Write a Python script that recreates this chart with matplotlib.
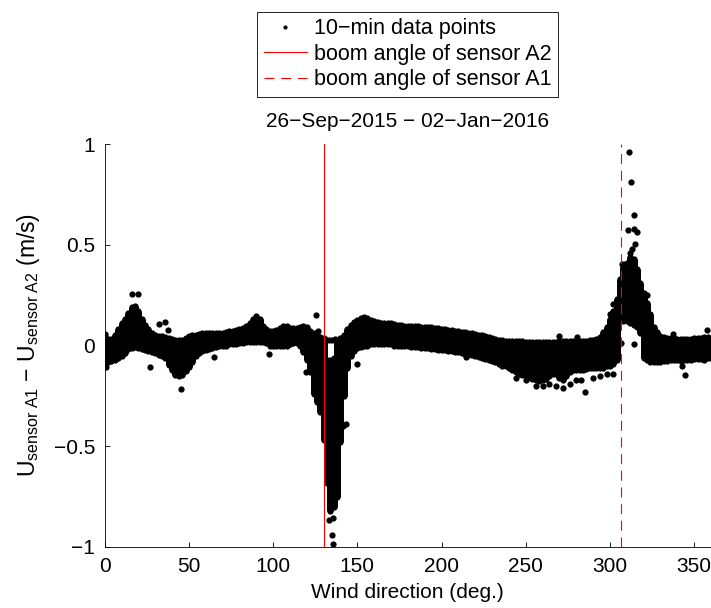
import matplotlib
matplotlib.use("Agg")
import matplotlib.pyplot as plt
from matplotlib.lines import Line2D

plt.rcParams['font.family'] = ['Liberation Sans', 'DejaVu Sans']
plt.rcParams['mathtext.fontset'] = 'custom'
plt.rcParams['mathtext.rm'] = 'Liberation Sans'
plt.rcParams['mathtext.it'] = 'Liberation Sans:italic'

# ---- data ----
# dense band of 10-min points: direction bins with lower / upper edge of the point cloud
band_dir = [0, 2, 4, 6, 8, 10, 12, 14, 16, 18,
            20, 22, 24, 26, 28, 30, 32, 34, 36, 38,
            40, 42, 44, 46, 48, 50, 52, 54, 56, 58,
            60, 62, 64, 66, 68, 70, 72, 74, 76, 78,
            80, 82, 84, 86, 88, 90, 92, 94, 96, 98,
            100, 102, 104, 106, 108, 110, 112, 114, 116, 118,
            120, 122, 124, 126, 128, 130, 132, 134, 136, 138,
            140, 142, 144, 146, 148, 150, 152, 154, 156, 158,
            160, 162, 164, 166, 168, 170, 172, 174, 176, 178,
            180, 182, 184, 186, 188, 190, 192, 194, 196, 198,
            200, 202, 204, 206, 208, 210, 212, 214, 216, 218,
            220, 222, 224, 226, 228, 230, 232, 234, 236, 238,
            240, 242, 244, 246, 248, 250, 252, 254, 256, 258,
            260, 262, 264, 266, 268, 270, 272, 274, 276, 278,
            280, 282, 284, 286, 288, 290, 292, 294, 296, 298,
            300, 302, 304, 306, 308, 310, 312, 314, 316, 318,
            320, 322, 324, 326, 328, 330, 332, 334, 336, 338,
            340, 342, 344, 346, 348, 350, 352, 354, 356, 358,
            360]
band_lo = [-0.09, -0.08, -0.075, -0.07, -0.06, -0.05, -0.035, -0.015, -0.01, -0.005,
           -0.01, -0.015, -0.02, -0.025, -0.03, -0.035, -0.045, -0.05, -0.06, -0.095,
           -0.12, -0.145, -0.15, -0.145, -0.125, -0.105, -0.08, -0.05, -0.035, -0.025,
           -0.02, -0.015, -0.01, -0.005, 0.0, 0.0, 0.0, 0.005, 0.005, 0.005,
           0.01, 0.01, 0.015, 0.015, 0.015, 0.015, 0.015, 0.015, 0.01, 0.0,
           0.0, 0.0, 0.0, 0.0, 0.0, 0.005, 0.01, 0.01, 0.0, -0.03,
           -0.07, -0.13, -0.24, -0.28, -0.33, -0.47, -0.68, -0.82, -0.80, -0.75,
           -0.48, -0.25, -0.11, -0.05, -0.025, -0.01, -0.005, 0.0, 0.0, 0.005,
           0.005, 0.005, 0.005, 0.005, 0.005, 0.005, 0.0, 0.0, 0.0, 0.0,
           0.0, -0.005, -0.005, -0.005, -0.01, -0.01, -0.01, -0.015, -0.015, -0.02,
           -0.02, -0.02, -0.025, -0.025, -0.03, -0.03, -0.035, -0.04, -0.045, -0.045,
           -0.05, -0.055, -0.06, -0.065, -0.07, -0.075, -0.08, -0.09, -0.10, -0.10,
           -0.11, -0.12, -0.13, -0.14, -0.145, -0.15, -0.155, -0.165, -0.17, -0.175,
           -0.17, -0.165, -0.15, -0.14, -0.14, -0.16, -0.17, -0.15, -0.13, -0.12,
           -0.12, -0.12, -0.12, -0.115, -0.11, -0.11, -0.11, -0.11, -0.11, -0.10,
           -0.10, -0.09, -0.07, 0.13, 0.12, 0.12, 0.11, 0.10, 0.09, 0.06,
           -0.06, -0.07, -0.08, -0.08, -0.08, -0.08, -0.075, -0.075, -0.07, -0.07,
           -0.07, -0.075, -0.07, -0.07, -0.07, -0.065, -0.065, -0.065, -0.07, -0.06,
           -0.06]
band_hi = [0.045, 0.03, 0.03, 0.05, 0.08, 0.11, 0.13, 0.16, 0.19, 0.195,
           0.17, 0.13, 0.10, 0.08, 0.06, 0.05, 0.045, 0.045, 0.04, 0.035,
           0.03, 0.025, 0.025, 0.025, 0.035, 0.045, 0.05, 0.05, 0.055, 0.06,
           0.06, 0.06, 0.06, 0.06, 0.06, 0.06, 0.065, 0.07, 0.07, 0.075,
           0.08, 0.085, 0.095, 0.11, 0.13, 0.145, 0.13, 0.095, 0.08, 0.07,
           0.07, 0.075, 0.085, 0.095, 0.095, 0.085, 0.085, 0.085, 0.09, 0.095,
           0.09, 0.07, 0.06, 0.05, 0.04, 0.035, -0.07, -0.07, -0.06, 0.02,
           0.035, 0.05, 0.08, 0.10, 0.115, 0.125, 0.135, 0.14, 0.135, 0.125,
           0.12, 0.115, 0.11, 0.11, 0.11, 0.11, 0.105, 0.10, 0.10, 0.095,
           0.095, 0.095, 0.095, 0.095, 0.09, 0.09, 0.09, 0.09, 0.085, 0.085,
           0.08, 0.08, 0.075, 0.075, 0.07, 0.07, 0.065, 0.065, 0.06, 0.06,
           0.055, 0.05, 0.05, 0.045, 0.04, 0.035, 0.03, 0.025, 0.025, 0.02,
           0.02, 0.02, 0.02, 0.02, 0.02, 0.015, 0.015, 0.015, 0.015, 0.015,
           0.015, 0.015, 0.015, 0.015, 0.015, 0.02, 0.02, 0.02, 0.02, 0.02,
           0.02, 0.02, 0.02, 0.02, 0.025, 0.025, 0.03, 0.04, 0.06, 0.09,
           0.13, 0.17, 0.23, 0.33, 0.39, 0.41, 0.44, 0.43, 0.38, 0.31,
           0.26, 0.21, 0.15, 0.09, 0.06, 0.045, 0.04, 0.035, 0.035, 0.035,
           0.03, 0.03, 0.03, 0.03, 0.03, 0.035, 0.035, 0.035, 0.04, 0.04,
           0.03]

# individual scattered 10-min points outside the dense band
pts_dir = [0, 1, 16, 19.6, 27, 32, 36, 37.6, 45.6, 65, 97.7, 119.6, 125.2, 126.8,
           131, 133, 135, 137, 133, 135.5, 135.2, 135.8, 141.5, 143, 150, 214.8,
           244.5, 250, 256, 260, 264, 268, 272, 276, 280, 283, 285.2, 290, 294, 298, 301.6,
           270, 280.5, 296, 300, 302, 306.6, 314,
           307, 309, 310.9, 311.5, 312, 312.5, 313, 314, 314.4, 315, 316,
           321.9, 323.8, 327.7, 337.7, 357.7, 342.7, 344.5]
pts_du = [0.055, -0.105, 0.255, 0.255, -0.108, 0.108, 0.116, 0.078, -0.215, -0.055, -0.041, -0.133, 0.149, 0.07,
          0.03, 0.025, 0.025, 0.03, -0.865, -0.855, -0.94, -0.985, -0.40, -0.39, -0.091, -0.055,
          -0.16, -0.17, -0.20, -0.20, -0.19, -0.20, -0.21, -0.19, -0.17, -0.17, -0.232, -0.16, -0.15, -0.14, -0.14,
          0.045, 0.04, 0.066, 0.158, 0.207, 0.011, 0.005,
          0.406, 0.406, 0.575, 0.96, 0.46, 0.81, 0.48, 0.58, 0.65, 0.506, 0.565,
          0.25, 0.158, 0.066, 0.058, 0.075, -0.10, -0.144]

boom_A2 = 130.0
boom_A1 = 306.5

title_txt = "26\u2212Sep\u22122015 \u2212 02\u2212Jan\u22122016"
x_ticks = [0, 50, 100, 150, 200, 250, 300, 350]
y_ticks = [-1, -0.5, 0, 0.5, 1]
y_ticklabels = ["\u22121", "\u22120.5", "0", "0.5", "1"]

# ---- figure ----
W, H = 711, 608
fig = plt.figure(figsize=(W / 100, H / 100), dpi=100)
ax = fig.add_axes([104.7 / W, (H - 547) / H, 606.3 / W, 403 / H])

ms = 4.5
ax.vlines(band_dir, band_lo, band_hi, colors='k', linewidth=ms + 0.5, zorder=2)
ax.plot(band_dir, band_lo, 'o', color='k', ms=ms, mew=0, zorder=3)
ax.plot(band_dir, band_hi, 'o', color='k', ms=ms, mew=0, zorder=3)
ax.plot(pts_dir, pts_du, 'o', color='k', ms=ms, mew=0, zorder=3)

ax.axvline(boom_A2, color='r', lw=0.8, zorder=5)
ax.axvline(boom_A1, color='r', lw=0.8, ls=(0, (9, 6)), zorder=5)

ax.set_xlim(0, 360)
ax.set_ylim(-1, 1)
ax.set_xticks(x_ticks)
ax.set_yticks(y_ticks)
ax.set_yticklabels(y_ticklabels)
for s in ['top', 'right']:
    ax.spines[s].set_visible(False)
for s in ['left', 'bottom']:
    ax.spines[s].set_linewidth(0.6)
ax.tick_params(direction='in', length=3.6, width=0.6, labelsize=15, pad=7)

ax.set_xlabel('Wind direction (deg.)', fontsize=15)
ax.xaxis.set_label_coords(0.5, -(592 - 547) / 403)
ax.xaxis.label.set_va('center')
ax.set_ylabel(r'U$_{\rm sensor\ A1}$ $-$ U$_{\rm sensor\ A2}$ (m/s)', fontsize=16.5)
ax.yaxis.set_label_coords(-(104.7 - 28) / 606.3, 0.5)
ax.yaxis.label.set_va('center')

ax.set_title(title_txt, fontsize=15, pad=12.5)

handles = [Line2D([], [], ls='none', marker='.', color='k', ms=4),
           Line2D([], [], color='r', lw=0.8),
           Line2D([], [], color='r', lw=0.8, ls=(0, (9, 6)))]
labels = ['10\u2212min data points', 'boom angle of sensor A2', 'boom angle of sensor A1']
ax_cx = (104.7 + 606.3 / 2) / W
leg = fig.legend(handles, labels, loc='upper center', bbox_to_anchor=(ax_cx, 1 - 12 / H),
                 fontsize=15.5, frameon=True, fancybox=False, framealpha=1, edgecolor='k',
                 handlelength=2.0, handletextpad=0.35, labelspacing=0.2, borderpad=0.3,
                 borderaxespad=0)
leg.get_frame().set_linewidth(0.6)

fig.savefig('out.png', dpi=100)
